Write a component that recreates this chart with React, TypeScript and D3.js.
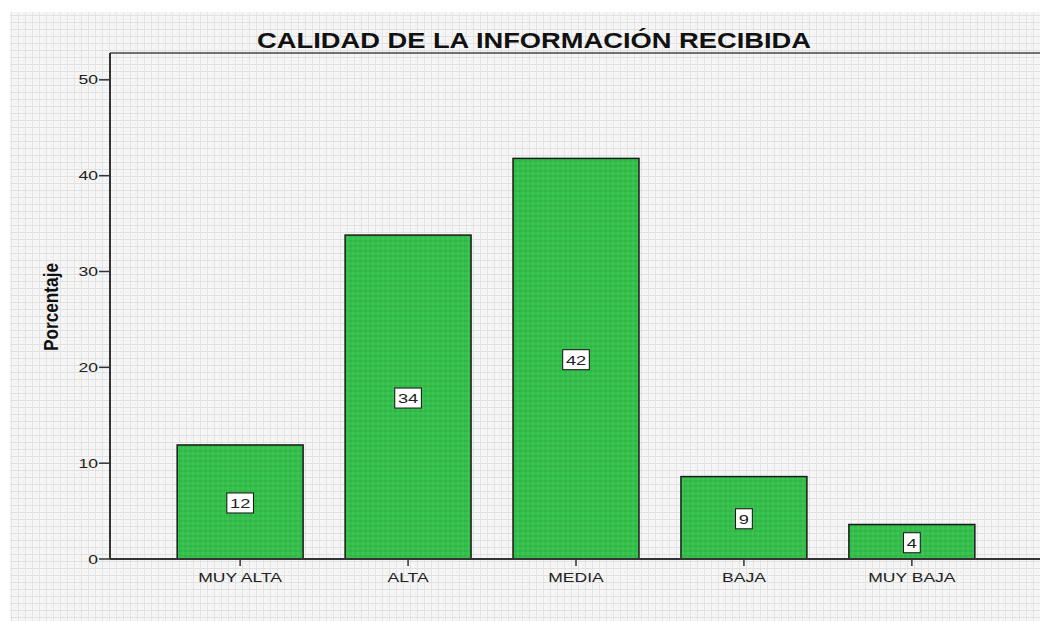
import React from "react";
import * as d3 from "d3";

const categories = ["MUY ALTA", "ALTA", "MEDIA", "BAJA", "MUY BAJA"];
const percentages = [11.9, 33.8, 41.8, 8.6, 3.6];
const valueLabels = ["12", "34", "42", "9", "4"];
const yTicks = [0, 10, 20, 30, 40, 50];
const title = "CALIDAD DE LA INFORMACIÓN RECIBIDA";
const yTitle = "Porcentaje";

const W = 1040;
const H = 621;
const left = 110;
const right = 1042;
const top = 53;
const bottom = 559;
const SX = 1.35; // horizontal stretch of the reference's text
const FONT = "'Liberation Sans', Arial, sans-serif";

function SText({ x, y, sx = SX, anchor = "middle", size = 13, weight = "normal", children, fill = "#222" }: any) {
  return (
    <text
      transform={`translate(${x},${y}) scale(${sx},1)`}
      textAnchor={anchor}
      fontFamily={FONT}
      fontSize={size}
      fontWeight={weight}
      fill={fill}
    >
      {children}
    </text>
  );
}

export default function App() {
  const x = d3.scaleBand<string>().domain(categories).range([left, right]).paddingInner(0.25).paddingOuter(0.4);
  const y = d3.scaleLinear().domain([0, 52.8]).range([bottom, top]);
  const fmt = d3.format(".0f");

  return (
    <svg width={W} height={H} style={{ position: "absolute", left: 0, top: 0, background: "#fff" }}>
      <defs>
        <pattern id="tex" width="7" height="7" patternUnits="userSpaceOnUse">
          <rect width="7" height="7" fill="#f6f6f6" />
          <path d="M0 1.5H7" stroke="#dedede" strokeWidth="0.9" />
          <path d="M4.5 0V7" stroke="#e2e2e2" strokeWidth="0.9" />
          <path d="M1 5H3" stroke="#e6e6e6" strokeWidth="0.8" />
        </pattern>
        <pattern id="texBar" width="5" height="5" patternUnits="userSpaceOnUse">
          <path d="M0 1H5" stroke="rgba(0,60,0,0.18)" strokeWidth="0.9" />
          <path d="M3 0V5" stroke="rgba(255,255,255,0.12)" strokeWidth="0.9" />
        </pattern>
      </defs>

      <rect x={10} y={12} width={W - 10} height={H - 12} fill="url(#tex)" />

      {/* frame */}
      <line x1={left} x2={W} y1={top} y2={top} stroke="#444" strokeWidth={1.5} />
      <line x1={left} x2={left} y1={top} y2={bottom} stroke="#333" strokeWidth={2} />

      {/* bars */}
      {categories.map((c, i) => {
        const bx = x(c)!;
        const bw = x.bandwidth();
        const by = y(percentages[i]);
        const bh = y(0) - by;
        return (
          <g key={c}>
            <rect x={bx} y={by} width={bw} height={bh} fill="#33c14b" />
            <rect x={bx} y={by} width={bw} height={bh} fill="url(#texBar)" />
            <rect x={bx} y={by} width={bw} height={bh} fill="none" stroke="#1a1a1a" strokeWidth={1.5} />
          </g>
        );
      })}

      {/* x axis */}
      <line x1={left} x2={W} y1={bottom} y2={bottom} stroke="#333" strokeWidth={2} />
      {categories.map((c) => {
        const cx = x(c)! + x.bandwidth() / 2;
        return (
          <g key={"xt" + c}>
            <line x1={cx} x2={cx} y1={bottom} y2={bottom + 7} stroke="#333" strokeWidth={1.5} />
            <SText x={cx} y={bottom + 23}>{c}</SText>
          </g>
        );
      })}

      {/* y axis ticks */}
      {yTicks.map((t) => (
        <g key={"yt" + t}>
          <line x1={left - 11} x2={left} y1={y(t)} y2={y(t)} stroke="#333" strokeWidth={1.5} />
          <SText x={left - 12} y={y(t) + 4.5} anchor="end">{fmt(t)}</SText>
        </g>
      ))}

      {/* value labels */}
      {categories.map((c, i) => {
        const cx = x(c)! + x.bandwidth() / 2;
        const cy = (y(percentages[i]) + y(0)) / 2 + 1;
        const lbl = valueLabels[i];
        const bw = lbl.length * 9.8 + 7;
        return (
          <g key={"vl" + c}>
            <rect x={cx - bw / 2} y={cy - 10} width={bw} height={20} fill="#fff" stroke="#111" strokeWidth={1} />
            <SText x={cx} y={cy + 5} size={13.5}>{lbl}</SText>
          </g>
        );
      })}

      {/* title */}
      <SText x={534} y={48} sx={1.27} size={21.5} weight="bold" fill="#111">{title}</SText>

      {/* y axis title */}
      <text
        transform={`translate(58,307) scale(1.3,1) rotate(-90)`}
        textAnchor="middle"
        fontFamily={FONT}
        fontSize={16}
        fontWeight="bold"
        fill="#111"
        textLength={88}
        lengthAdjust="spacingAndGlyphs"
      >
        {yTitle}
      </text>
    </svg>
  );
}
